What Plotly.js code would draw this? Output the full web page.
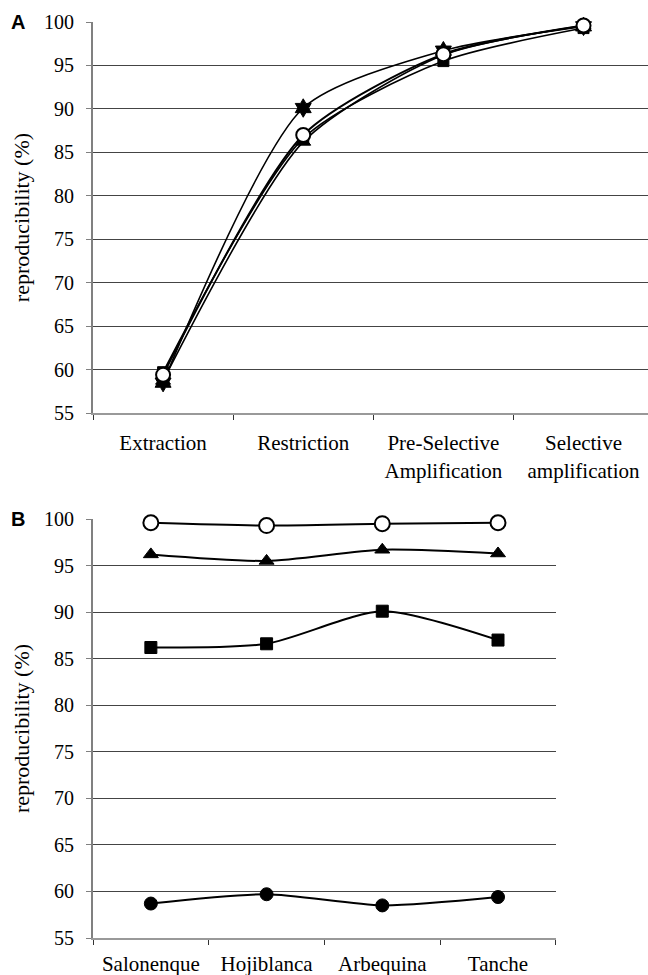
<!DOCTYPE html>
<html>
<head>
<meta charset="utf-8">
<script src="https://cdn.plot.ly/plotly-3.0.1.min.js"></script>
<style>
html,body{margin:0;padding:0;background:#fff;}
#chart{width:648px;height:975px;}
</style>
</head>
<body>
<div id="chart"></div>
<script>
// Steps (panel A categories)
const steps = ['Extraction', 'Restriction', 'Pre-Selective<br>Amplification', 'Selective<br>amplification'];
// Cultivars (panel B categories)
const cultivars = ['Salonenque', 'Hojiblanca', 'Arbequina', 'Tanche'];

// Reproducibility (%) per cultivar at each step
const salonenque = [58.7, 86.2, 96.2, 99.6];
const hojiblanca = [59.7, 86.6, 95.5, 99.3];
const arbequina  = [58.5, 90.1, 96.7, 99.5];
const tanche     = [59.4, 87.0, 96.3, 99.6];

const cultivarSeries = [salonenque, hojiblanca, arbequina, tanche];
// Panel B series (per step, across cultivars) built from the same values
const stepSeries = steps.map((s, i) => cultivarSeries.map(c => c[i]));

const yTicks = [55, 60, 65, 70, 75, 80, 85, 90, 95, 100];

const markerA = [
  {symbol: 'triangle-up', size: 13, color: '#000', line: {color: '#000', width: 1}},
  {symbol: 'square', size: 11, color: '#000', line: {color: '#000', width: 1}},
  {symbol: 'hexagram', size: 14, color: '#000', line: {color: '#000', width: 1}},
  {symbol: 'circle', size: 14, color: '#fff', line: {color: '#000', width: 2}}
];
const markerB = [
  {symbol: 'circle', size: 13, color: '#000', line: {color: '#000', width: 1}},
  {symbol: 'square', size: 12, color: '#000', line: {color: '#000', width: 1}},
  {symbol: 'triangle-up', size: 13, color: '#000', line: {color: '#000', width: 1}},
  {symbol: 'circle', size: 15, color: '#fff', line: {color: '#000', width: 2}}
];

const traces = [];
cultivarSeries.forEach((vals, i) => {
  traces.push({
    x: steps, y: vals, xaxis: 'x', yaxis: 'y',
    type: 'scatter', mode: 'lines+markers', cliponaxis: false,
    name: cultivars[i],
    line: {color: '#000', width: i === 3 ? 2 : 1.6, shape: 'spline', smoothing: 0.7},
    marker: markerA[i], showlegend: false
  });
});
stepSeries.forEach((vals, i) => {
  traces.push({
    x: cultivars, y: vals, xaxis: 'x2', yaxis: 'y2',
    type: 'scatter', mode: 'lines+markers', cliponaxis: false,
    name: steps[i],
    line: {color: '#000', width: 2, shape: 'spline', smoothing: 0.7},
    marker: markerB[i], showlegend: false
  });
});

const serif = '"Liberation Serif", "Times New Roman", serif';
const yTickFont = {family: serif, size: 20, color: '#000'};
const xTickFont = {family: serif, size: 21, color: '#000'};
const titleFont = {family: serif, size: 22, color: '#000'};

function yAxis(domain) {
  return {
    domain: domain, range: [55, 100], tickvals: yTicks, ticktext: yTicks.map(String),
    showgrid: true, gridcolor: '#444', gridwidth: 1,
    showline: true, linecolor: '#808080', linewidth: 2,
    ticks: 'outside', ticklen: 5, tickcolor: '#808080', tickwidth: 1,
    ticklabelstandoff: 8,
    tickfont: yTickFont, zeroline: false, fixedrange: true,
    title: {text: 'reproducibility (%)', font: titleFont, standoff: 8}
  };
}
function xAxis(domain, range, anchor, standoff) {
  return {
    domain: domain, range: range, type: 'category', anchor: anchor,
    showgrid: false, showline: true, linecolor: '#999', linewidth: 2,
    ticks: 'outside', tickson: 'boundaries', ticklen: 5, tickcolor: '#333', tickwidth: 1,
    ticklabelstandoff: standoff, tickfont: xTickFont, zeroline: false, fixedrange: true
  };
}

const layout = {
  width: 648, height: 975,
  margin: {l: 93, r: 0, t: 22, b: 37},
  paper_bgcolor: '#fff', plot_bgcolor: '#fff',
  xaxis: xAxis([0, 1], [-0.5, 3.46], 'y', 10),
  yaxis: yAxis([0.5731, 1]),
  xaxis2: xAxis([0, 0.834], [-0.5, 3.5], 'y2', 6),
  yaxis2: yAxis([0, 0.4574]),
  annotations: [
    {text: '<b>A</b>', xref: 'paper', yref: 'paper', x: -0.135, y: 1, xanchor: 'center', yanchor: 'middle',
     showarrow: false, font: {family: '"Liberation Sans", Arial, sans-serif', size: 20, color: '#000'}},
    {text: '<b>B</b>', xref: 'paper', yref: 'paper', x: -0.135, y: 0.4574, xanchor: 'center', yanchor: 'middle',
     showarrow: false, font: {family: '"Liberation Sans", Arial, sans-serif', size: 20, color: '#000'}}
  ]
};

Plotly.newPlot('chart', traces, layout, {staticPlot: true, displayModeBar: false});
</script>
</body>
</html>
